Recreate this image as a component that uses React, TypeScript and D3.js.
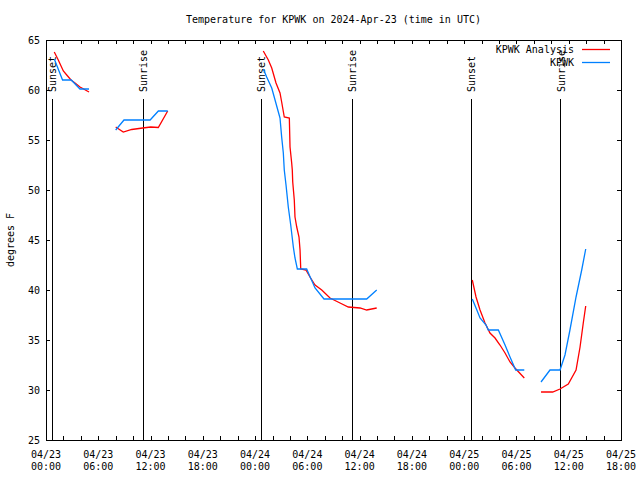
import React from "react";
import * as d3 from "d3";

const analysisHours = [
  0.95, 1.41, 1.99, 2.38, 2.87, 3.33, 3.9, 4.94, NaN,
  8.0, 8.87, 9.84, 11.1, 12.02, 12.89, 13.97, NaN,
  24.94, 25.52, 25.91, 26.4, 26.86, 27.05, 27.35, 27.93, 28.01, 28.2, 28.27, 28.32, 28.5, 28.58, 28.78, 29.04, 29.16, 29.24, 29.84, 30.3, 30.88, 31.65, 32.6, 33.75, 34.7, 36.04, 36.81, 37.96, NaN,
  48.93, 49.36, 49.82, 50.39, 50.96, 51.54, 52.11, 52.69, 53.26, 53.83, 54.9, NaN,
  56.82, 58.16, 59.0, 59.95, 60.84, 61.3, 61.67, 61.95,
];
const analysisTemps = [
  63.8, 63.0, 61.9, 61.5, 61.0, 60.7, 60.3, 59.8, NaN,
  56.3, 55.8, 56.05, 56.2, 56.3, 56.25, 57.9, NaN,
  63.9, 63.0, 62.2, 60.7, 59.7, 58.8, 57.3, 57.2, 54.3, 52.7, 52.0, 50.8, 49.0, 47.3, 46.3, 45.3, 44.0, 42.1, 42.0, 41.3, 40.5, 40.0, 39.2, 38.7, 38.3, 38.2, 38.0, 38.2, NaN,
  41.0, 39.3, 38.0, 36.7, 35.7, 35.2, 34.5, 33.7, 32.8, 32.2, 31.2, NaN,
  29.8, 29.8, 30.1, 30.6, 32.0, 34.3, 36.7, 38.4,
];

const obsHours = [
  0.95, 1.9, 2.9, 3.9, 4.94, NaN,
  8.0, 8.95, 11.95, 12.9, 13.97, NaN,
  24.94, 25.33, 25.91, 26.29, 26.67, 26.86, 27.05, 27.24, 27.35, 27.55, 27.81, 28.09, 28.39, 28.58, 28.85, 29.92, 30.22, 30.88, 31.91, 36.81, 37.96, NaN,
  48.93, 49.36, 49.82, 50.51, 50.77, 51.92, 52.69, 53.26, 53.91, 54.9, NaN,
  56.82, 57.85, 59.0, 59.57, 60.14, 60.84, 61.49, 61.95,
];
const obsTemps = [
  63.1, 61.0, 61.0, 60.1, 60.1, NaN,
  56.0, 57.0, 57.0, 57.9, 57.9, NaN,
  62.1, 61.3, 60.2, 59.0, 57.8, 57.2, 55.3, 53.7, 52.0, 50.5, 48.3, 46.5, 44.3, 43.2, 42.1, 42.1, 41.5, 40.2, 39.1, 39.1, 40.0, NaN,
  39.1, 38.2, 37.2, 36.5, 36.0, 36.0, 34.5, 33.3, 32.0, 32.0, NaN,
  30.8, 32.0, 32.0, 33.5, 36.0, 39.3, 42.0, 44.1,
];

const sunsetHours = [0.65, 24.64, 48.75];
const sunriseHours = [11.1, 35.09, 59.04];

const yTicks = [25, 30, 35, 40, 45, 50, 55, 60, 65];
const seriesNames = ["KPWK Analysis", "KPWK"];
const seriesColors = ["#ff0000", "#0080ff"];

const START = Date.UTC(2024, 3, 23, 0, 0);
const END = Date.UTC(2024, 3, 25, 18, 0);
const toDate = (h: number) => new Date(START + h * 3600e3);

const FONT = "DejaVu Sans Mono, monospace";

export default function App() {
  const W = 640, H = 480;
  const L = 46, R = 621, T = 40, B = 440;
  const x = d3.scaleUtc().domain([new Date(START), new Date(END)]).range([L, R]);
  const y = d3.scaleLinear().domain([25, 65]).range([B, T]);

  const mk = (hs: number[], ts: number[]) =>
    hs.map((h, i) => ({ h, t: ts[i] }));
  const line = d3
    .line<{ h: number; t: number }>()
    .defined((d) => !isNaN(d.h) && !isNaN(d.t))
    .x((d) => x(toDate(d.h)))
    .y((d) => y(d.t));

  const minorTicks = d3.utcHour.every(2)!.range(new Date(START), new Date(END + 1));
  const labelTicks = d3.utcHour.every(6)!.range(new Date(START), new Date(END + 1));
  const fmtDate = d3.utcFormat("%m/%d");
  const fmtTime = d3.utcFormat("%H:%M");
  const px = (v: number) => Math.round(v) + 0.5;

  const sunEvents = [
    ...sunsetHours.map((h) => ({ h, label: "Sunset" })),
    ...sunriseHours.map((h) => ({ h, label: "Sunrise" })),
  ];

  return (
    <svg
      width={W}
      height={H}
      style={{ position: "absolute", left: 0, top: 0, background: "#fff" }}
      fontFamily={FONT}
      fontSize={10}
    >
      <rect x={0} y={0} width={W} height={H} fill="#fff" />
      <text x={(L + R) / 2} y={23} textAnchor="middle" fill="#000">
        Temperature for KPWK on 2024-Apr-23 (time in UTC)
      </text>
      <text
        transform={`translate(14,${(T + B) / 2}) rotate(-90)`}
        textAnchor="middle"
        fill="#000"
      >
        degrees F
      </text>

      {/* y ticks */}
      {yTicks.map((v) => (
        <g key={"y" + v} shapeRendering="crispEdges">
          <line x1={L} x2={L + 4} y1={px(y(v))} y2={px(y(v))} stroke="#000" />
          <line x1={R - 4} x2={R} y1={px(y(v))} y2={px(y(v))} stroke="#000" />
          <text x={40} y={y(v)} dy="0.35em" textAnchor="end" fill="#000" shapeRendering="auto">
            {v}
          </text>
        </g>
      ))}

      {/* x ticks */}
      {minorTicks.map((d) => (
        <g key={"m" + d.getTime()} shapeRendering="crispEdges">
          <line x1={px(x(d))} x2={px(x(d))} y1={B} y2={B - 4} stroke="#000" />
          <line x1={px(x(d))} x2={px(x(d))} y1={T} y2={T + 4} stroke="#000" />
        </g>
      ))}
      {labelTicks.map((d) => (
        <g key={"l" + d.getTime()}>
          <text x={x(d)} y={457.5} textAnchor="middle" fill="#000">
            {fmtDate(d)}
          </text>
          <text x={x(d)} y={470} textAnchor="middle" fill="#000">
            {fmtTime(d)}
          </text>
        </g>
      ))}

      {/* sun events */}
      {sunEvents.map((e) => {
        const xx = x(toDate(e.h));
        return (
          <g key={e.label + e.h}>
            <line
              x1={px(xx)}
              x2={px(xx)}
              y1={99}
              y2={B}
              stroke="#000"
              shapeRendering="crispEdges"
            />
            <text
              transform={`translate(${xx + 4.5},92) rotate(-90)`}
              textAnchor="start"
              fill="#000"
            >
              {e.label}
            </text>
          </g>
        );
      })}

      {/* frame */}
      <rect
        x={L + 0.5}
        y={T + 0.5}
        width={R - L}
        height={B - T}
        fill="none"
        stroke="#000"
        shapeRendering="crispEdges"
      />

      {/* data */}
      <path d={line(mk(analysisHours, analysisTemps)) || ""} fill="none" stroke={seriesColors[0]} strokeWidth={1.3} />
      <path d={line(mk(obsHours, obsTemps)) || ""} fill="none" stroke={seriesColors[1]} strokeWidth={1.3} />

      {/* legend */}
      {seriesNames.map((n, i) => (
        <g key={n}>
          <text x={574} y={53 + i * 13} textAnchor="end" fill="#000">
            {n}
          </text>
          <line
            x1={582}
            x2={610}
            y1={49.5 + i * 13}
            y2={49.5 + i * 13}
            stroke={seriesColors[i]}
            strokeWidth={1.3}
          />
        </g>
      ))}
    </svg>
  );
}
